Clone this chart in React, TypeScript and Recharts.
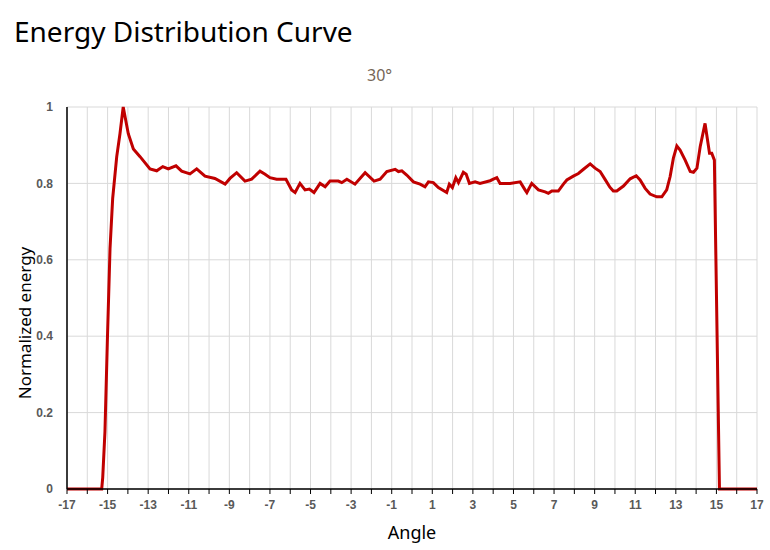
import { CartesianGrid, Label, Line, LineChart, XAxis, YAxis } from "recharts"

const angles = [
  -17, -15.29, -15.24, -15.13, -15.01, -14.88, -14.75, -14.55, -14.39, -14.23,
  -13.98, -13.73, -13.4, -12.91, -12.58, -12.28, -12.01, -11.63, -11.35, -10.94,
  -10.61, -10.2, -9.71, -9.21, -8.97, -8.64, -8.23, -7.9, -7.49, -7.24,
  -7.0, -6.67, -6.21, -5.93, -5.76, -5.52, -5.27, -5.06, -4.83, -4.53,
  -4.28, -4.04, -3.63, -3.46, -3.21, -2.81, -2.31, -1.87, -1.57, -1.24,
  -0.83, -0.67, -0.5, -0.26, 0.07, 0.4, 0.64, 0.81, 1.05, 1.3,
  1.71, 1.84, 1.99, 2.16, 2.29, 2.53, 2.67, 2.83, 3.11, 3.35,
  3.85, 4.01, 4.18, 4.34, 4.83, 5.33, 5.57, 5.66, 5.9, 6.23,
  6.56, 6.72, 6.89, 7.21, 7.46, 7.63, 7.95, 8.2, 8.45, 8.78,
  9.02, 9.27, 9.52, 9.75, 9.92, 10.09, 10.42, 10.75, 11.05, 11.24,
  11.49, 11.73, 12.06, 12.31, 12.55, 12.72, 12.88, 13.05, 13.21, 13.46,
  13.71, 13.87, 14.04, 14.2, 14.44, 14.66, 14.77, 14.9, 15.15, 17,
]

const energy = [
  0, 0, 0.03, 0.15, 0.39, 0.63, 0.76, 0.87, 0.93, 1.0,
  0.93, 0.89, 0.87, 0.838, 0.833, 0.844, 0.838, 0.846, 0.832, 0.825,
  0.838, 0.819, 0.813, 0.798, 0.813, 0.828, 0.806, 0.811, 0.832, 0.824,
  0.815, 0.811, 0.811, 0.783, 0.776, 0.8, 0.783, 0.785, 0.776, 0.8,
  0.791, 0.806, 0.806, 0.802, 0.811, 0.798, 0.828, 0.806, 0.811, 0.831,
  0.837, 0.831, 0.833, 0.822, 0.804, 0.798, 0.791, 0.804, 0.802, 0.789,
  0.776, 0.798, 0.789, 0.815, 0.802, 0.829, 0.824, 0.8, 0.804, 0.8,
  0.807, 0.811, 0.815, 0.8, 0.8, 0.804, 0.783, 0.776, 0.8, 0.783,
  0.778, 0.774, 0.78, 0.78, 0.798, 0.809, 0.819, 0.826, 0.837, 0.851,
  0.84, 0.831, 0.81, 0.79, 0.78, 0.78, 0.793, 0.812, 0.82, 0.809,
  0.787, 0.772, 0.765, 0.765, 0.783, 0.818, 0.866, 0.898, 0.887, 0.861,
  0.831, 0.829, 0.84, 0.896, 0.957, 0.879, 0.879, 0.861, 0, 0,
]

// every integer gets a grid line and tick mark, only odd ones get a label
const xTicks = Array.from({ length: 35 }, (_, i) => i - 17)
const yTicks = [0, 0.2, 0.4, 0.6, 0.8, 1]

const data = angles.map((a, i) => ({ angle: a, value: energy[i] }))

const tickStyle = { fill: "#595959", fontSize: 12, fontWeight: 700, fontFamily: "Liberation Sans, Arial, sans-serif" }
const labelFont = "Noto Sans, Open Sans, sans-serif"

// the y title sits a bit below the plot's middle in the original
const YTitle = () => (
  <text
    x={24}
    y={323}
    transform="rotate(-90 24 323)"
    textAnchor="middle"
    dominantBaseline="central"
    style={{ fontSize: 17, fontFamily: labelFont, fill: "#000" }}
  >
    Normalized energy
  </text>
)

export default function App() {
  return (
    <div style={{ position: "absolute", left: 0, top: 0, width: 770, height: 550, background: "#fff" }}>
      <div style={{ position: "absolute", left: 14, top: 12, fontSize: 28, fontFamily: labelFont, color: "#000", whiteSpace: "nowrap" }}>
        Energy Distribution Curve
      </div>
      <div style={{ position: "absolute", left: 367, top: 64, fontSize: 16, fontFamily: labelFont, color: "#766656" }}>
        30°
      </div>
      <LineChart width={770} height={550} data={data} margin={{ top: 107, right: 13, bottom: 31, left: 27 }}>
        <CartesianGrid stroke="#d9d9d9" strokeWidth={1} />
        <XAxis
          dataKey="angle"
          type="number"
          domain={[-17, 17]}
          ticks={xTicks}
          interval={0}
          tickFormatter={(v: number) => (Math.abs(v) % 2 === 1 ? String(v) : "")}
          tick={tickStyle}
          tickLine={{ stroke: "#000" }}
          tickSize={5}
          tickMargin={6}
          axisLine={{ stroke: "#000", strokeWidth: 1.5 }}
          height={30}
        >
          <Label value="Angle" position="insideBottom" offset={-20} style={{ fontSize: 18, fontFamily: labelFont, fill: "#000" }} />
        </XAxis>
        <YAxis
          type="number"
          domain={[0, 1]}
          ticks={yTicks}
          tickFormatter={(v: number) => String(v)}
          tick={tickStyle}
          tickLine={false}
          tickMargin={8}
          axisLine={{ stroke: "#000", strokeWidth: 1.5 }}
          width={40}
        >
          <Label content={<YTitle />} />
        </YAxis>
        <Line
          type="linear"
          dataKey="value"
          stroke="#c00000"
          strokeWidth={3}
          dot={false}
          activeDot={false}
          isAnimationActive={false}
        />
      </LineChart>
    </div>
  )
}
